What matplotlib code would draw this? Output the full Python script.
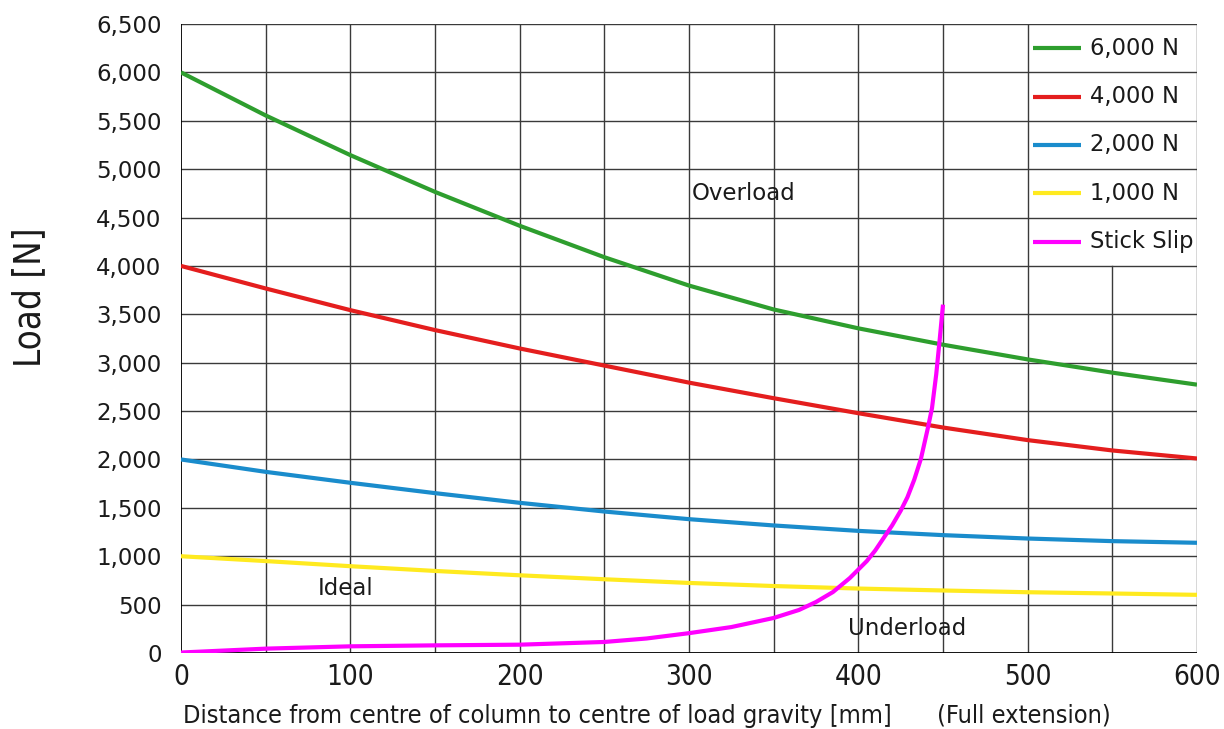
import matplotlib
matplotlib.use("Agg")
import matplotlib.pyplot as plt
from matplotlib import font_manager as fm

# ---------------- data ----------------
x_dist = [0, 50, 100, 150, 200, 250, 300, 350, 400, 450, 500, 550, 600]
load_6000 = [6000, 5555, 5145, 4765, 4415, 4090, 3797, 3550, 3355, 3186, 3034, 2897, 2773]
load_4000 = [4000, 3767, 3543, 3337, 3147, 2970, 2794, 2633, 2478, 2330, 2200, 2093, 2010]
load_2000 = [2000, 1872, 1759, 1652, 1552, 1462, 1383, 1318, 1262, 1218, 1183, 1156, 1139]
load_1000 = [1000, 950, 897, 848, 803, 762, 724, 692, 666, 646, 628, 615, 601]

slip_x = [0, 50, 100, 150, 200, 250, 275, 300, 325, 350, 365, 375, 385, 395, 405,
          410, 415, 420, 425, 429, 433, 437, 441, 443.5, 446, 448, 450]
slip_y = [5, 45, 69, 79, 86, 114, 150, 205, 268, 362, 445, 527, 630, 775, 950,
          1060, 1190, 1320, 1470, 1610, 1790, 2010, 2320, 2530, 2880, 3230, 3600]

series_labels = ["6,000 N", "4,000 N", "2,000 N", "1,000 N", "Stick Slip"]
series_colors = ["#2e9e2e", "#e41e1e", "#1a8ccc", "#ffea1f", "#ff00ff"]

x_ticks = [0, 100, 200, 300, 400, 500, 600]
y_ticks = list(range(0, 6501, 500))
y_tick_labels = [f"{v:,}" for v in y_ticks]

annotations = [("Overload", 332, 4750), ("Ideal", 97, 670), ("Underload", 429, 250)]

# ---------------- fonts ----------------
names = {f.name for f in fm.fontManager.ttflist}
narrow = "Liberation Sans Narrow" if "Liberation Sans Narrow" in names else "DejaVu Sans"
narrow_kw = {"family": narrow}
if narrow == "DejaVu Sans":
    narrow_kw["stretch"] = "condensed"
wide = "DejaVu Sans"
txt_color = "#1a1a1a"

fig = plt.figure(figsize=(12.24, 7.29), dpi=100)
ax = fig.add_axes([181/1224, 1 - 653/729, (1197-181)/1224, (653-24)/729])
ax.set_xlim(0, 600)
ax.set_ylim(0, 6500)

grid_color = "#3a3a3a"
for gx in range(50, 601, 50):
    top = 4000 if gx == 550 else 6500
    ax.plot([gx, gx], [0, top], color=grid_color, lw=1.0, zorder=1)
for gy in range(500, 6501, 500):
    ax.axhline(gy, color=grid_color, lw=1.0, zorder=1)

for sp in ax.spines.values():
    sp.set_visible(False)
ax.plot([0, 0], [0, 6500], color="black", lw=1.3, zorder=1)
ax.plot([0, 600], [0, 0], color="black", lw=1.3, zorder=1)

lw = 3.0
series = [load_6000, load_4000, load_2000, load_1000]
for ys, c in zip(series, series_colors[:4]):
    ax.plot(x_dist, ys, color=c, lw=lw, zorder=3, solid_capstyle="butt",
            solid_joinstyle="round")
ax.plot(slip_x, slip_y, color=series_colors[4], lw=lw, zorder=4,
        solid_capstyle="butt", solid_joinstyle="round")

# legend drawn as table cells inside the grid
row_y = [6250, 5750, 5250, 4750, 4250]
for lab, c, ry in zip(series_labels, series_colors, row_y):
    ax.plot([503, 531.5], [ry, ry], color=c, lw=lw, zorder=3, solid_capstyle="butt")
    ax.text(537, ry, lab, fontsize=16.3, family=wide, va="center", ha="left", color=txt_color)

for txt, tx, ty in annotations:
    ax.text(tx, ty, txt, fontsize=16.5, family=wide, ha="center", va="center", color=txt_color)

ax.set_xticks(x_ticks)
ax.set_xticklabels([str(v) for v in x_ticks], fontsize=20, color=txt_color, **narrow_kw)
ax.set_yticks(y_ticks)
ax.set_yticklabels(y_tick_labels, fontsize=16.5, family=wide, color=txt_color)
ax.tick_params(axis="both", length=0)
ax.tick_params(axis="y", pad=14)
ax.tick_params(axis="x", pad=7)

fig.text(183/1224, 1 - 716/729,
         "Distance from centre of column to centre of load gravity [mm]",
         fontsize=18.2, ha="left", va="center", color=txt_color, **narrow_kw)
fig.text(937/1224, 1 - 716/729, "(Full extension)",
         fontsize=18.2, ha="left", va="center", color=txt_color, **narrow_kw)
fig.text(30/1224, 1 - 297/729, "Load [N]", rotation=90, fontsize=26.3,
         ha="center", va="center", color=txt_color, **narrow_kw)

fig.savefig("out.png", dpi=100, facecolor="white")
